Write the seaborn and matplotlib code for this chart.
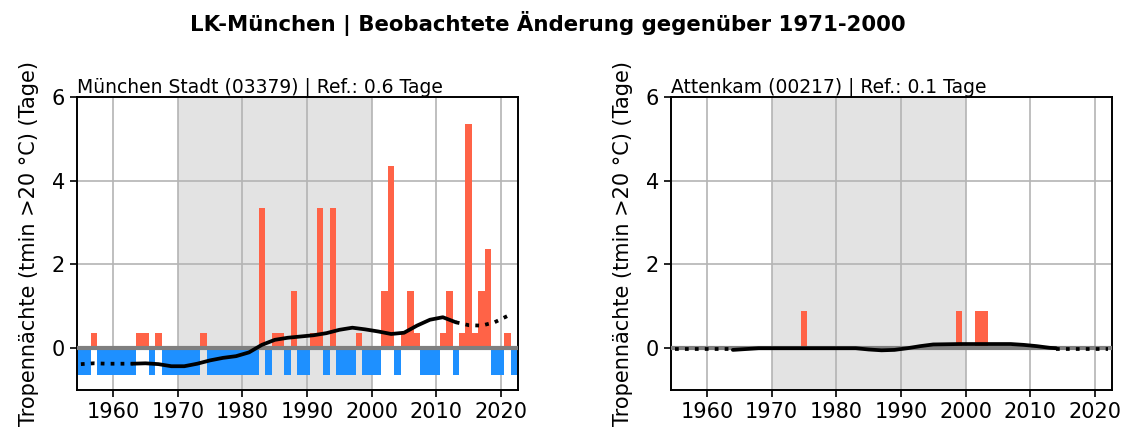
import numpy as np
import pandas as pd
import matplotlib
matplotlib.use("Agg")
import matplotlib.pyplot as plt
import seaborn as sns

# Tropennächte counts per year, München Stadt (03379)
years_muc = list(range(1955, 2023))
counts_muc = [0, 0, 1, 0, 0, 0, 0, 0, 0, 1, 1, 0, 1, 0, 0, 0, 0, 0, 0, 1,
              0, 0, 0, 0, 0, 0, 0, 0, 4, 0, 1, 1, 0, 2, 0, 0, 1, 4, 0, 4,
              0, 0, 0, 1, 0, 0, 0, 2, 5, 0, 1, 2, 1, 0, 0, 0, 1, 2, 0, 1,
              6, 1, 2, 3, 0, 0, 1, 0]
ref_muc = 0.64

# Attenkam (00217): only years with tropical nights
years_att = [1975, 1999, 2002, 2003]
counts_att = [1, 1, 1, 1]
ref_att = 0.1

# smoothed anomaly curves (solid part and dotted ends)
smooth_years_muc = [1963, 1965, 1967, 1969, 1971, 1973, 1975, 1977, 1979, 1981, 1983, 1985, 1987,
                    1989, 1991, 1993, 1995, 1997, 1999, 2001, 2003, 2005, 2007, 2009, 2011, 2013]
smooth_muc = [-0.37, -0.36, -0.38, -0.43, -0.43, -0.37, -0.29, -0.23, -0.19, -0.1, 0.08, 0.2, 0.25,
              0.28, 0.31, 0.36, 0.44, 0.49, 0.45, 0.4, 0.34, 0.37, 0.54, 0.68, 0.74, 0.62]
dot_left_years_muc = [1955, 1957, 1959, 1961, 1963]
dot_left_muc = [-0.38, -0.36, -0.37, -0.37, -0.37]
dot_right_years_muc = [2013, 2015, 2017, 2019, 2021]
dot_right_muc = [0.62, 0.55, 0.54, 0.62, 0.77]

smooth_years_att = [1964, 1966, 1968, 1972, 1976, 1980, 1983, 1985, 1987, 1989, 1991, 1993,
                    1995, 1999, 2003, 2007, 2009, 2011, 2013, 2014]
smooth_att = [-0.04, -0.02, 0.0, 0.0, 0.0, 0.0, 0.0, -0.03, -0.05, -0.04, 0.0, 0.05,
              0.09, 0.1, 0.1, 0.1, 0.08, 0.05, 0.01, 0.0]
dot_left_years_att = [1955, 1964]
dot_left_att = [-0.01, -0.01]
dot_right_years_att = [2014, 2022]
dot_right_att = [-0.02, -0.02]

stations = [
    ("München Stadt (03379) | Ref.: 0.6 Tage", years_muc, counts_muc, ref_muc,
     smooth_years_muc, smooth_muc, dot_left_years_muc, dot_left_muc, dot_right_years_muc, dot_right_muc),
    ("Attenkam (00217) | Ref.: 0.1 Tage", years_att, counts_att, ref_att,
     smooth_years_att, smooth_att, dot_left_years_att, dot_left_att, dot_right_years_att, dot_right_att),
]

sns.set_style("ticks")
plt.rcParams['font.family'] = ['DejaVu Sans']
plt.rcParams.update({"text.color": "black", "axes.labelcolor": "black",
                     "xtick.color": "black", "ytick.color": "black"})

fig, axes = plt.subplots(1, 2, figsize=(11.24, 4.32), dpi=100)
fig.subplots_adjust(left=0.0685, right=0.989, top=0.7755, bottom=0.097, wspace=0.347)

for ax, (title, yrs, cnt, ref, sy, sv, dly, dlv, dry, drv) in zip(axes, stations):
    df = pd.DataFrame({"year": yrs, "anom": np.array(cnt) - ref})
    df["sign"] = np.where(df["anom"] >= 0, "pos", "neg")
    ax.axvspan(1970, 2000, color="#e3e3e3", zorder=0, lw=0)
    sns.barplot(data=df, x="year", y="anom", hue="sign", native_scale=True,
                palette={"pos": "tomato", "neg": "dodgerblue"}, dodge=False, saturation=1,
                errorbar=None, width=1, linewidth=0, legend=False, ax=ax, zorder=2)
    ax.axhline(0, color="#7f7f7f", lw=3, zorder=3)
    sns.lineplot(x=sy, y=sv, color="black", lw=2.7, ax=ax, zorder=4)
    sns.lineplot(x=dly, y=dlv, color="black", lw=2.7, linestyle=":", ax=ax, zorder=4)
    sns.lineplot(x=dry, y=drv, color="black", lw=2.7, linestyle=":", ax=ax, zorder=4)

    ax.set_xlim(1954.4, 2022.6)
    ax.set_ylim(-1, 6)
    ax.set_xticks(range(1960, 2021, 10))
    ax.set_yticks([0, 2, 4, 6])
    ax.grid(True, color="#b4b4b4", lw=1.2)
    ax.set_axisbelow(True)
    ax.tick_params(labelsize=15, length=5, width=1.2, color="black")
    for s in ax.spines.values():
        s.set_visible(True)
        s.set_color("black")
        s.set_linewidth(1.4)
    ax.set_xlabel("")
    ax.set_ylabel("Tropennächte (tmin >20 °C) (Tage)", fontsize=15, labelpad=9)
    ax.set_title(title, loc="left", fontsize=13.5, pad=1)

fig.suptitle("LK-München | Beobachtete Änderung gegenüber 1971-2000",
             fontsize=15.3, fontweight="bold", x=0.487, y=0.975)

plt.savefig("out.png", dpi=100)
